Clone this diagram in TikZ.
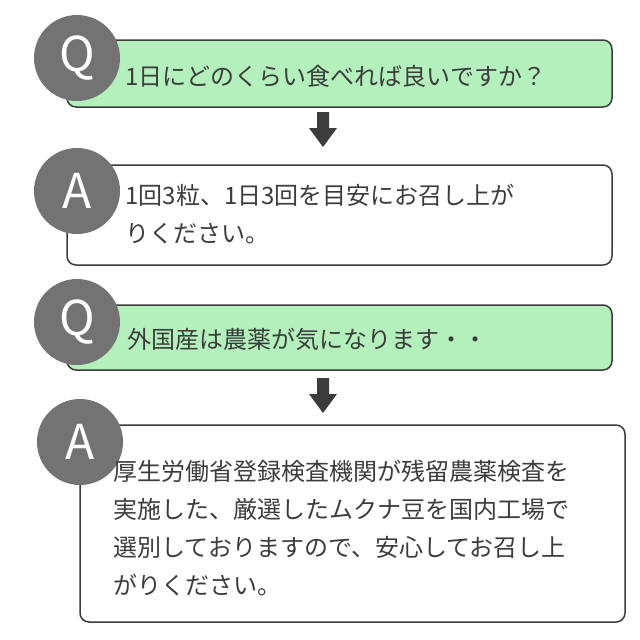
\documentclass[tikz,border=0pt]{standalone}
\usepackage{fontspec}
\setmainfont{Noto Sans CJK JP}
\usetikzlibrary{positioning}
\definecolor{qgreen}{HTML}{B3F0BC}
\definecolor{badge}{HTML}{737373}
\definecolor{edge}{HTML}{3C3C3C}
\begin{document}
\begin{tikzpicture}[x=1pt,y=-1pt,
  qbox/.style={draw=edge, line width=1.5pt, rounded corners=9pt, fill=qgreen},
  abox/.style={draw=edge, line width=1.5pt, rounded corners=9pt, fill=white},
  badgenode/.style={circle, fill=badge, minimum size=86pt, inner sep=0pt, text=white, font=\fontsize{48}{48}\selectfont},
  txt/.style={anchor=west, align=left, text=edge, font=\fontsize{24}{38}\selectfont},
  downarrow/.style={fill=edge, draw=none}]
  \useasboundingbox (0,0) rectangle (640,640);

  % first question
  \draw[qbox] (67,40) rectangle (612,107);
  \node[badgenode] (q1) at (77,58) {Q};
  \node[txt] (q1t) at (122,76) {1日にどのくらい食べれば良いですか？};
  \fill[downarrow] (317,112) -- (329,112) -- (329,128) -- (337,128) -- (323,147) -- (309,128) -- (317,128) -- cycle;

  % first answer
  \draw[abox] (67,165) rectangle (612,265);
  \node[badgenode] (a1) at (77,191) {A};
  \node[txt] (a1t) at (122,214) {1回3粒、1日3回を目安にお召し上が\\りください。};

  % second question
  \draw[qbox] (67,305) rectangle (612,370);
  \node[badgenode] (q2) at (77,322) {Q};
  \node[txt] (q2t) at (124,339) {外国産は農薬が気になります・・};
  \fill[downarrow] (317,378) -- (329,378) -- (329,394) -- (337,394) -- (323,413) -- (309,394) -- (317,394) -- cycle;

  % second answer
  \draw[abox] (80,425) rectangle (625,622);
  \node[badgenode] (a2) at (80,442) {A};
  \node[txt] (a2t) at (110,528) {厚生労働省登録検査機関が残留農薬検査を\\実施した、厳選したムクナ豆を国内工場で\\選別しておりますので、安心してお召し上\\がりください。};
\end{tikzpicture}
\end{document}
